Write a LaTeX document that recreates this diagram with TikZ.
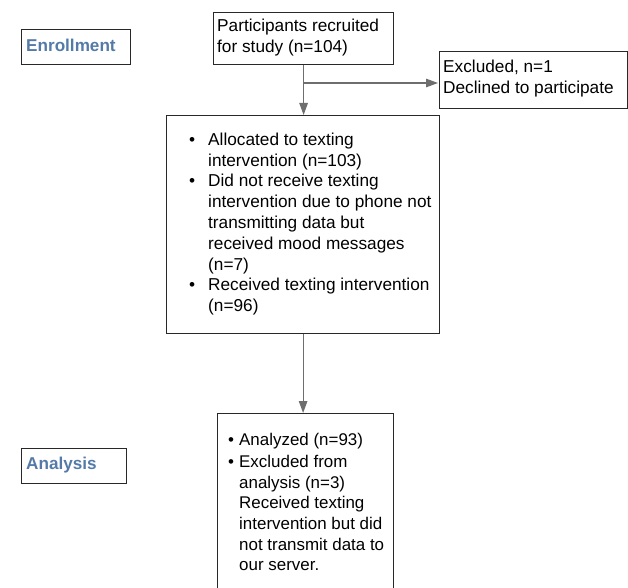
\documentclass[tikz,border=0pt]{standalone}
\usepackage{fontspec}
\setmainfont{Liberation Sans}
\usetikzlibrary{arrows.meta}
\definecolor{labelblue}{RGB}{84,122,168}
\definecolor{edgegray}{RGB}{110,110,110}
\definecolor{boxline}{RGB}{40,40,40}
\begin{document}
\begin{tikzpicture}[x=1bp,y=-1bp,
  box/.style={draw=boxline, line width=1.2bp, inner sep=0, anchor=north west},
  txt/.style={anchor=base west, inner sep=0, font=\fontsize{17.3}{20.9}\selectfont},
  txtb/.style={anchor=base west, inner sep=0, font=\fontsize{17}{20.6}\selectfont},
  head/.style={anchor=base west, inner sep=0, font=\fontsize{17.2}{20}\selectfont\bfseries, text=labelblue},
  conn/.style={draw=edgegray, line width=1.2bp},
  arr/.style={conn, -{Triangle[length=12bp,width=8.5bp]}}]
\useasboundingbox (0,0) rectangle (628,588);
\clip (0,0) rectangle (628,588);

% boxes
\node[box, minimum width=109bp, minimum height=35bp] (enr) at (21,29) {};
\node[box, minimum width=180bp, minimum height=52bp] (part) at (213,12) {};
\node[box, minimum width=188bp, minimum height=57bp] (excl) at (439,51) {};
\node[box, minimum width=273bp, minimum height=218bp] (alloc) at (166,115) {};
\node[box, minimum width=105bp, minimum height=35bp] (ana) at (21,448) {};
\node[box, minimum width=176bp, minimum height=200bp] (anl) at (217,413) {};

% texts
\node[head] (enrT) at (26,51.2) {Enrollment};
\node[head] (anaT) at (26,469) {Analysis};
\node[txt] (partT) at (217,32) {\begin{tabular}[t]{@{}l@{}}Participants recruited\\for study (n=104)\end{tabular}};
\node[txt, font=\fontsize{17.3}{20.2}\selectfont] (exclT) at (443,73) {\begin{tabular}[t]{@{}l@{}}Excluded, n=1\\Declined to participate\end{tabular}};
\node[txt] (allocT) at (189,145.2) {\begin{tabular}[t]{@{}p{19bp}@{}l@{}}
• & Allocated to texting\\
  & intervention (n=103)\\
• & Did not receive texting\\
  & intervention due to phone not\\
  & transmitting data but\\
  & received mood messages\\
  & (n=7)\\
• & Received texting intervention\\
  & (n=96)
\end{tabular}};
\node[txtb] (anlT) at (228,445) {\begin{tabular}[t]{@{}p{11bp}@{}l@{}}
• & Analyzed (n=93)\\[2.4bp]
• & Excluded from\\
  & analysis (n=3)\\
  & Received texting\\
  & intervention but did\\
  & not transmit data to\\
  & our server.
\end{tabular}};

% connectors
\coordinate (br) at (part.south |- 0,83);
\draw[arr] (part.south) -- (part.south |- alloc.north);
\draw[arr, shorten >=1bp] (br) -- (excl.west |- br);
\draw[arr] (alloc.south) -- (alloc.south |- anl.north);
\end{tikzpicture}
\end{document}
